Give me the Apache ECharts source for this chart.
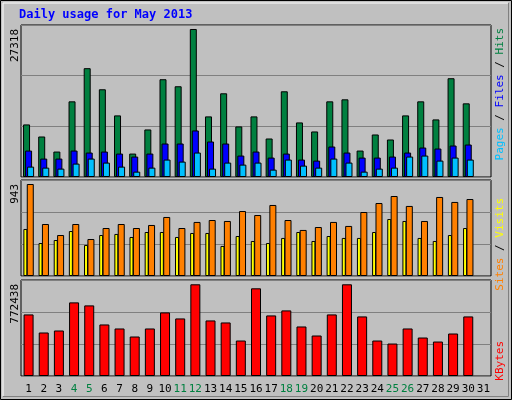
<!DOCTYPE html>
<html><head><meta charset="utf-8">
<script src="https://cdn.jsdelivr.net/npm/echarts@6/dist/echarts.min.js"></script>
<style>html,body{margin:0;padding:0;background:#c0c0c0}#c{width:512px;height:400px}</style>
</head><body><div id="c"></div>
<script>
const days = ['1','2','3','4','5','6','7','8','9','10','11','12','13','14','15','16','17','18','19','20','21','22','23','24','25','26','27','28','29','30','31'];
const weekends = ['4','5','11','12','18','19','25','26'];
const hits = [9703,7478,4697,13967,20085,16192,11371,4326,8776,18046,16748,27318,11186,15450,9332,11186,7107,15821,10073,8405,13967,14338,4882,7849,6922,11371,13967,10630,18231,13596,null];
const files = [4882,3399,3399,4882,4511,4697,4326,3770,4326,6180,6180,8590,6551,6180,3955,4697,3584,4326,3214,3028,5624,4511,3584,3584,3770,4511,5438,5253,5809,5995,null];
const pages = [1916,1730,1545,2472,3399,2657,1916,989,1730,3214,2843,4511,1545,2657,2287,2657,1360,3214,2101,1730,3399,2657,989,1545,1730,3770,3955,3028,3584,3214,null];
const sites = [482,338,369,461,318,420,431,400,451,451,400,441,441,308,410,359,338,390,451,359,410,390,390,451,584,564,390,359,420,492,null];
const visits = [943,533,420,533,379,492,533,492,523,605,492,554,574,564,666,625,728,574,472,502,554,513,656,748,820,718,564,810,759,789,null];
const kbytes = [518696,366470,383384,620180,594809,434126,400298,332642,400298,535610,484868,772438,467954,451040,298814,738578,510239,552524,417212,341099,518696,772438,501782,298814,273443,400298,324185,290357,358013,501782,null];
const maxLabels = ['27318','943','772438'];

const F = 'DejaVu Sans Mono';
const ch = echarts.init(document.getElementById('c'));
const bstyle = c => ({color:c,borderColor:'#000',borderWidth:1});
const maxes = [28056, 984, 808700];
const grids = [{left:21,top:25,width:470,height:152},{left:21,top:180,width:470,height:96},{left:21,top:280,width:470,height:96}]
  .map(g=>Object.assign(g,{show:true,backgroundColor:'#c0c0c0',borderColor:'#000',borderWidth:1}));
const xAxes = [0,1,2].map(i=>({type:'category',gridIndex:i,data:days,axisLine:{show:false},axisTick:{show:false},
  axisLabel:{show:i===2,interval:0,margin:8,fontFamily:F,fontSize:11,color:v=>weekends.includes(v)?'#008040':'#000'}}));
const yAxes = [0,1,2].map(i=>({type:'value',gridIndex:i,min:0,max:maxes[i],interval:maxes[i]/3,axisLabel:{show:false},
  axisLine:{show:false},axisTick:{show:false},splitLine:{show:true,lineStyle:{color:'#808080',width:1}}}));
ch.setOption({
  animation:false,
  backgroundColor:'#c0c0c0',
  grid:grids, xAxis:xAxes, yAxis:yAxes,
  series:[
    {type:'bar',xAxisIndex:0,yAxisIndex:0,data:hits,barWidth:7,barGap:'-71%',itemStyle:bstyle('#008040')},
    {type:'bar',xAxisIndex:0,yAxisIndex:0,data:files,barWidth:7,barGap:'-71%',itemStyle:bstyle('#0000ff')},
    {type:'bar',xAxisIndex:0,yAxisIndex:0,data:pages,barWidth:7,barGap:'-71%',itemStyle:bstyle('#00c0ff')},
    {type:'bar',xAxisIndex:1,yAxisIndex:1,data:sites,barWidth:4,barGap:'-15%',itemStyle:bstyle('#ffff00')},
    {type:'bar',xAxisIndex:1,yAxisIndex:1,data:visits,barWidth:7,barGap:'-15%',itemStyle:bstyle('#ff8000')},
    {type:'bar',xAxisIndex:2,yAxisIndex:2,data:kbytes,barWidth:10,itemStyle:bstyle('#ff0000')}
  ],
  graphic:[
    {type:'rect',shape:{x:0.5,y:0.5,width:511,height:399},style:{fill:null,stroke:'#000',lineWidth:1},silent:true},
    {type:'polyline',shape:{points:[[3,396.5],[508.5,396.5],[508.5,3]]},style:{stroke:'#808080',lineWidth:1,fill:null}},
    {type:'polyline',shape:{points:[[3,396],[3,3],[508,3]]},style:{stroke:'#ffffff',lineWidth:1,fill:null}},
    {type:'text',x:19,y:15,style:{text:'Daily usage for May 2013',fill:'#0000ff',font:'bold 12px '+F,verticalAlign:'middle'}},
    {type:'text',x:15,y:29,rotation:Math.PI/2,style:{text:maxLabels[0],fill:'#000',font:'11px '+F,align:'right',verticalAlign:'middle'}},
    {type:'text',x:15,y:184,rotation:Math.PI/2,style:{text:maxLabels[1],fill:'#000',font:'11px '+F,align:'right',verticalAlign:'middle'}},
    {type:'text',x:15,y:284,rotation:Math.PI/2,style:{text:maxLabels[2],fill:'#000',font:'11px '+F,align:'right',verticalAlign:'middle'}},
    {type:'text',x:500,y:28,rotation:Math.PI/2,style:{text:'{p|Pages} / {f|Files} / {h|Hits}',fill:'#000',font:'11px '+F,align:'right',verticalAlign:'middle',
      rich:{p:{fill:'#00c0ff',font:'11px '+F},f:{fill:'#0000ff',font:'11px '+F},h:{fill:'#008040',font:'11px '+F}}}},
    {type:'text',x:500,y:198,rotation:Math.PI/2,style:{text:'{s|Sites} / {v|Visits}',fill:'#000',font:'11px '+F,align:'right',verticalAlign:'middle',
      rich:{s:{fill:'#ff8000',font:'11px '+F},v:{fill:'#ffff00',font:'11px '+F}}}},
    {type:'text',x:500,y:341,rotation:Math.PI/2,style:{text:'KBytes',fill:'#ff0000',font:'11px '+F,align:'right',verticalAlign:'middle'}}
  ]
});
</script></body></html>
